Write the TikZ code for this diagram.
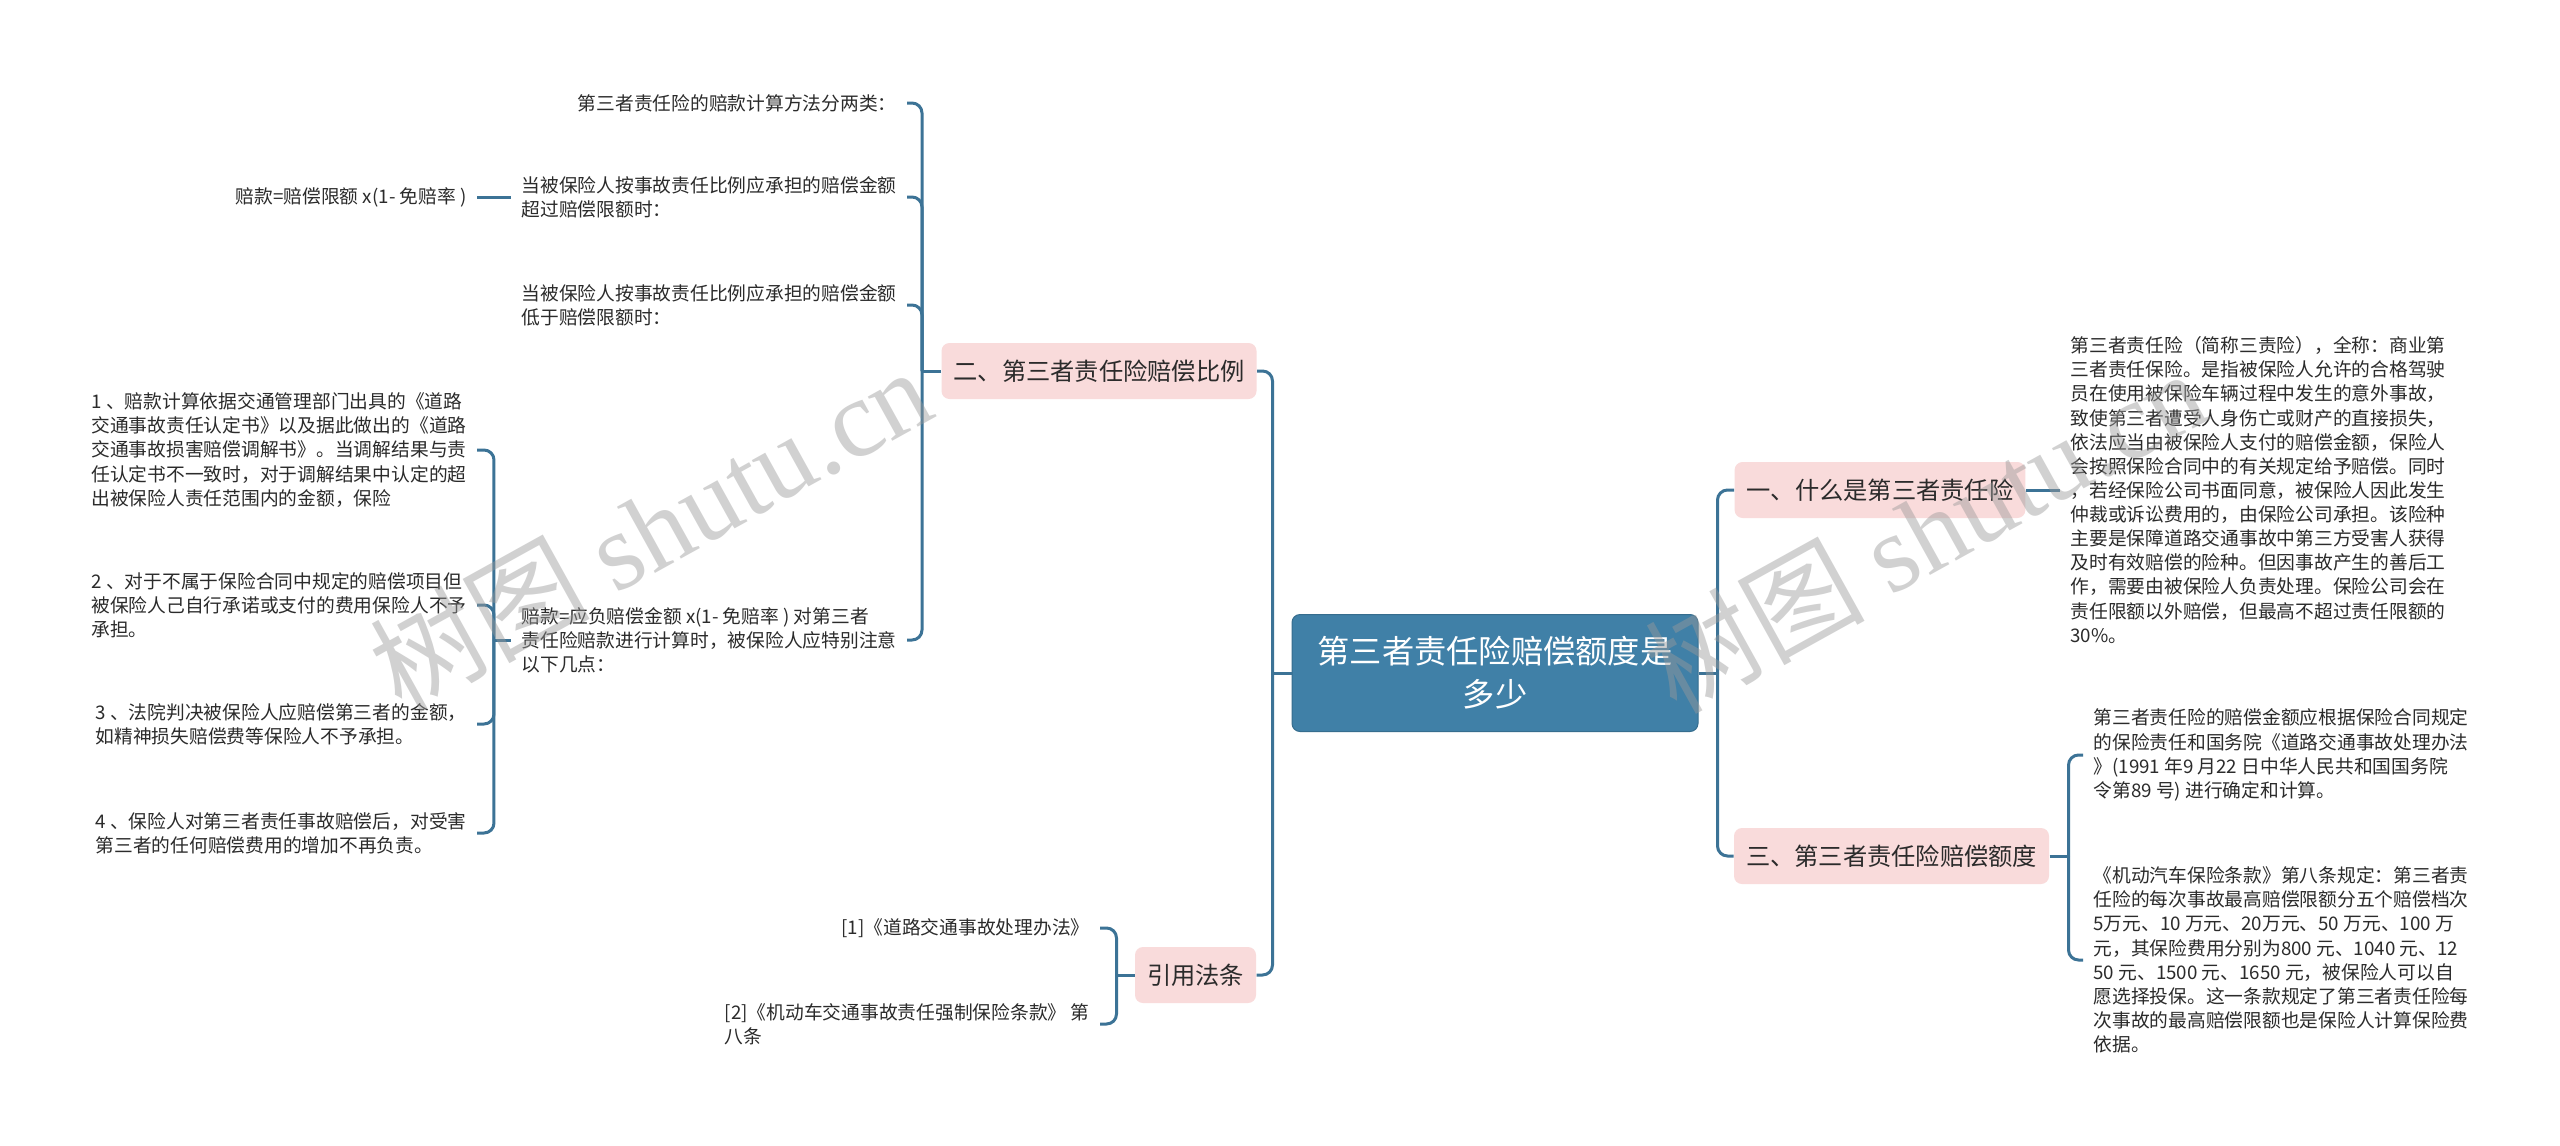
\documentclass[tikz,border=0pt]{standalone}
\usepackage{fontspec}
\setmainfont{Noto Sans CJK SC}
\newfontfamily\wmserif{Liberation Serif}
\definecolor{lc}{HTML}{3C7396}
\definecolor{rootfill}{HTML}{4080A7}
\definecolor{pk}{HTML}{F9DBDB}
\definecolor{tc}{HTML}{2B2B2B}
\definecolor{wmc}{HTML}{9A9A9A}
\tikzset{
  conn/.style={draw=lc, line width=1.2pt, rounded corners=4pt},
  topic/.style={fill=pk, rounded corners=3.2pt, inner xsep=4.8pt, inner ysep=0pt,
    minimum height=22.4pt, text=tc, font=\fontsize{9.7pt}{12pt}\selectfont},
  rootbox/.style={fill=rootfill, draw=rootfill!85!black, line width=0.4pt, rounded corners=3.2pt,
    minimum width=162.4pt, minimum height=46.8pt, align=center, text=white,
    font=\fontsize{12.9pt}{17.2pt}\selectfont},
  leaf/.style={inner xsep=4pt, inner ysep=0pt, align=left, text=tc,
    font=\fontsize{7.5pt}{9.65pt}\selectfont},
  wm/.style={text=wmc, opacity=0.45, font=\fontsize{44pt}{44pt}\selectfont, inner sep=0pt}
}
\begin{document}
\begin{tikzpicture}[x=0.4pt,y=-0.4pt]
\fill[white] (0,0) rectangle (2560,1146);
\useasboundingbox (0,0) rectangle (2560,1146);

% root and main topics
\node[rootbox] (root) at (1495,673) {第三者责任险赔偿额度是\\多少};
\node[topic] (n2) at (1099,371) {二、第三者责任险赔偿比例};
\node[topic] (ny) at (1195.5,975) {引用法条};
\node[topic] (n1) at (1880,490) {一、什么是第三者责任险};
\node[topic] (n3) at (1891.5,856) {三、第三者责任险赔偿额度};

% children of n2
\node[leaf, anchor=east] (c21) at (907,103) {第三者责任险的赔款计算方法分两类：};
\node[leaf, anchor=east] (c22) at (907,197) {当被保险人按事故责任比例应承担的赔偿金额\\超过赔偿限额时：};
\node[leaf, anchor=east] (c221) at (477,197) {赔款=赔偿限额 x(1- 免赔率 )};
\node[leaf, anchor=east] (c23) at (907,305) {当被保险人按事故责任比例应承担的赔偿金额\\低于赔偿限额时：};
\node[leaf, anchor=east] (c24) at (907,640) {赔款=应负赔偿金额 x(1- 免赔率 ) 对第三者\\责任险赔款进行计算时，被保险人应特别注意\\以下几点：};

% children of c24
\node[leaf, anchor=east] (d1) at (477,450) {1 、赔款计算依据交通管理部门出具的《道路\\交通事故责任认定书》以及据此做出的《道路\\交通事故损害赔偿调解书》。当调解结果与责\\任认定书不一致时，对于调解结果中认定的超\\出被保险人责任范围内的金额，保险};
\node[leaf, anchor=east] (d2) at (477,605) {2 、对于不属于保险合同中规定的赔偿项目但\\被保险人己自行承诺或支付的费用保险人不予\\承担。};
\node[leaf, anchor=east] (d3) at (477,724) {3 、法院判决被保险人应赔偿第三者的金额，\\如精神损失赔偿费等保险人不予承担。};
\node[leaf, anchor=east] (d4) at (477,833) {4 、保险人对第三者责任事故赔偿后，对受害\\第三者的任何赔偿费用的增加不再负责。};

% children of ny
\node[leaf, anchor=east] (y1) at (1100,928) {[1]《道路交通事故处理办法》};
\node[leaf, anchor=east] (y2) at (1100,1024) {[2]《机动车交通事故责任强制保险条款》 第\\八条};

% children of n1 and n3
\node[leaf, anchor=west] (t1) at (2060,490) {第三者责任险（简称三责险），全称：商业第\\三者责任保险。是指被保险人允许的合格驾驶\\员在使用被保险车辆过程中发生的意外事故，\\致使第三者遭受人身伤亡或财产的直接损失，\\依法应当由被保险人支付的赔偿金额，保险人\\会按照保险合同中的有关规定给予赔偿。同时\\，若经保险公司书面同意，被保险人因此发生\\仲裁或诉讼费用的，由保险公司承担。该险种\\主要是保障道路交通事故中第三方受害人获得\\及时有效赔偿的险种。但因事故产生的善后工\\作，需要由被保险人负责处理。保险公司会在\\责任限额以外赔偿，但最高不超过责任限额的\\30\%。};
\node[leaf, anchor=west] (t3a) at (2083,755) {第三者责任险的赔偿金额应根据保险合同规定\\的保险责任和国务院《道路交通事故处理办法\\》(1991 年9 月22 日中华人民共和国国务院\\令第89 号) 进行确定和计算。};
\node[leaf, anchor=west] (t3b) at (2083,960) {《机动汽车保险条款》第八条规定：第三者责\\任险的每次事故最高赔偿限额分五个赔偿档次\\5万元、10 万元、20万元、50 万元、100 万\\元，其保险费用分别为800 元、1040 元、12\\50 元、1500 元、1650 元，被保险人可以自\\愿选择投保。这一条款规定了第三者责任险每\\次事故的最高赔偿限额也是保险人计算保险费\\依据。};

% connectors: root to topics
\draw[conn] (root.west) -- ++(-19,0) coordinate (jl);
\draw[conn] (jl) |- (n2.east);
\draw[conn] (jl) |- (ny.east);
\draw[conn] (root.east) -- ++(19,0) coordinate (jr);
\draw[conn] (jr) |- (n1.west);
\draw[conn] (jr) |- (n3.west);

% n2 branch
\draw[conn] (n2.west) -- ++(-19,0) coordinate (j2);
\draw[conn] (j2) |- (c21.east);
\draw[conn] (j2) |- (c22.east);
\draw[conn] (j2) |- (c23.east);
\draw[conn] (j2) |- (c24.east);
\draw[conn] (c22.west) -- (c221.east);
\draw[conn] (c24.west) -- ++(-17,0) coordinate (j24);
\draw[conn] (j24) |- (d1.east);
\draw[conn] (j24) |- (d2.east);
\draw[conn] (j24) |- (d3.east);
\draw[conn] (j24) |- (d4.east);

% ny branch
\draw[conn] (ny.west) -- ++(-18,0) coordinate (jy);
\draw[conn] (jy) |- (y1.east);
\draw[conn] (jy) |- (y2.east);

% right branches
\draw[conn] (n1.east) -- (t1.west);
\draw[conn] (n3.east) -- ++(19,0) coordinate (j3);
\draw[conn] (j3) |- (t3a.west);
\draw[conn] (j3) |- (t3b.west);

% watermarks
\node[wm, rotate=29] (wm1) at (650,528) {树图 {\wmserif shutu.cn}};
\node[wm, rotate=29] (wm2) at (1925,530) {树图 {\wmserif shutu.cn}};
\end{tikzpicture}
\end{document}
